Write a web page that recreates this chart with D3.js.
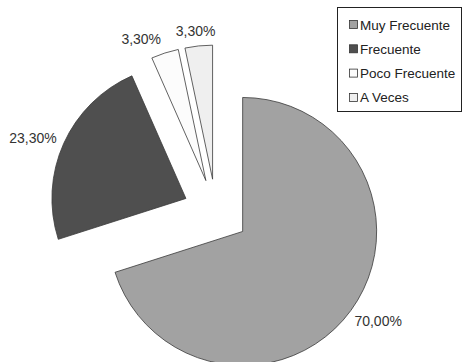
<!DOCTYPE html>
<html>
<head>
<meta charset="utf-8">
<script src="https://cdn.jsdelivr.net/npm/d3@7"></script>
<style>
	body { margin: 0; background: #fff; }
	svg { display: block; font-family: "Liberation Sans", Arial, sans-serif; }
	.slice { stroke: #3a3a3a; stroke-width: 0.8; }
	.pct { font-size: 14px; fill: #333; }
	.legend-text { font-size: 13.5px; fill: #222; }
</style>
</head>
<body>
<svg width="464" height="362"></svg>
<script>
const categories = ["Muy Frecuente", "Frecuente", "Poco Frecuente", "A Veces"];
const values = [70.0, 23.3, 3.3, 3.3];
const pctLabels = ["70,00%", "23,30%", "3,30%", "3,30%"];
const fills = ["#a2a2a2", "#4f4f4f", "#fcfcfc", "#efefef"];

const svg = d3.select("svg");
const width = +svg.attr("width");
const height = +svg.attr("height");

const cx = 216, cy = 212;
const radius = 134;
const explode = 33;

const pie = d3.pie().sort(null).startAngle(0).endAngle(2 * Math.PI);
const arcGen = d3.arc().innerRadius(0).outerRadius(radius);
const arcs = pie(values);

const g = svg.append("g").attr("transform", `translate(${cx},${cy})`);

// offset of a slice along its middle angle
function shift(d, k) {
	const a = (d.startAngle + d.endAngle) / 2;
	return [Math.sin(a) * k, -Math.cos(a) * k];
}

const slices = g.selectAll("g.s")
	.data(arcs)
	.enter()
	.append("g")
	.attr("transform", d => {
		const [dx, dy] = shift(d, explode);
		return `translate(${dx},${dy})`;
	});

slices.append("path")
	.attr("class", "slice")
	.attr("fill", (d, i) => fills[i])
	.attr("d", arcGen);

// percentage labels just outside the rim, bbox pushed away from slice
const boxes = [];
slices.append("text")
	.attr("class", "pct")
	.text((d, i) => pctLabels[i])
	.each(function(d, i) {
		const w = this.getComputedTextLength();
		const h = 12;
		const a = (d.startAngle + d.endAngle) / 2;
		const [px, py] = shift(d, radius + 10);
		const x = px + Math.sin(a) * w / 2 - w / 2;
		const y = py - Math.cos(a) * h / 2 + 6;
		boxes[i] = { node: this, x, y, w };
	});

// nudge crowded labels apart (right to left)
for (let i = boxes.length - 2; i >= 0; i--) {
	const b = boxes[i], n = boxes[i + 1];
	if (Math.abs(b.y - n.y) < 16 && b.x + b.w + 8 > n.x && b.x < n.x) {
		b.x = n.x - 8 - b.w;
	}
}
boxes.forEach(b => d3.select(b.node).attr("x", b.x).attr("y", b.y));

// legend
const legend = svg.append("g").attr("transform", "translate(337.5,7.5)");
legend.append("rect")
	.attr("width", 124)
	.attr("height", 104)
	.attr("fill", "#fff")
	.attr("stroke", "#222")
	.attr("stroke-width", 1);

const items = legend.selectAll("g.item")
	.data(categories)
	.enter()
	.append("g")
	.attr("transform", (d, i) => `translate(12,${17 + i * 24.3})`);

items.append("rect")
	.attr("x", 0)
	.attr("y", -4)
	.attr("width", 8)
	.attr("height", 8)
	.attr("fill", (d, i) => fills[i])
	.attr("stroke", "#333")
	.attr("stroke-width", 0.8);

items.append("text")
	.attr("class", "legend-text")
	.attr("x", 10.5)
	.attr("y", 5)
	.text(d => d);
</script>
</body>
</html>
